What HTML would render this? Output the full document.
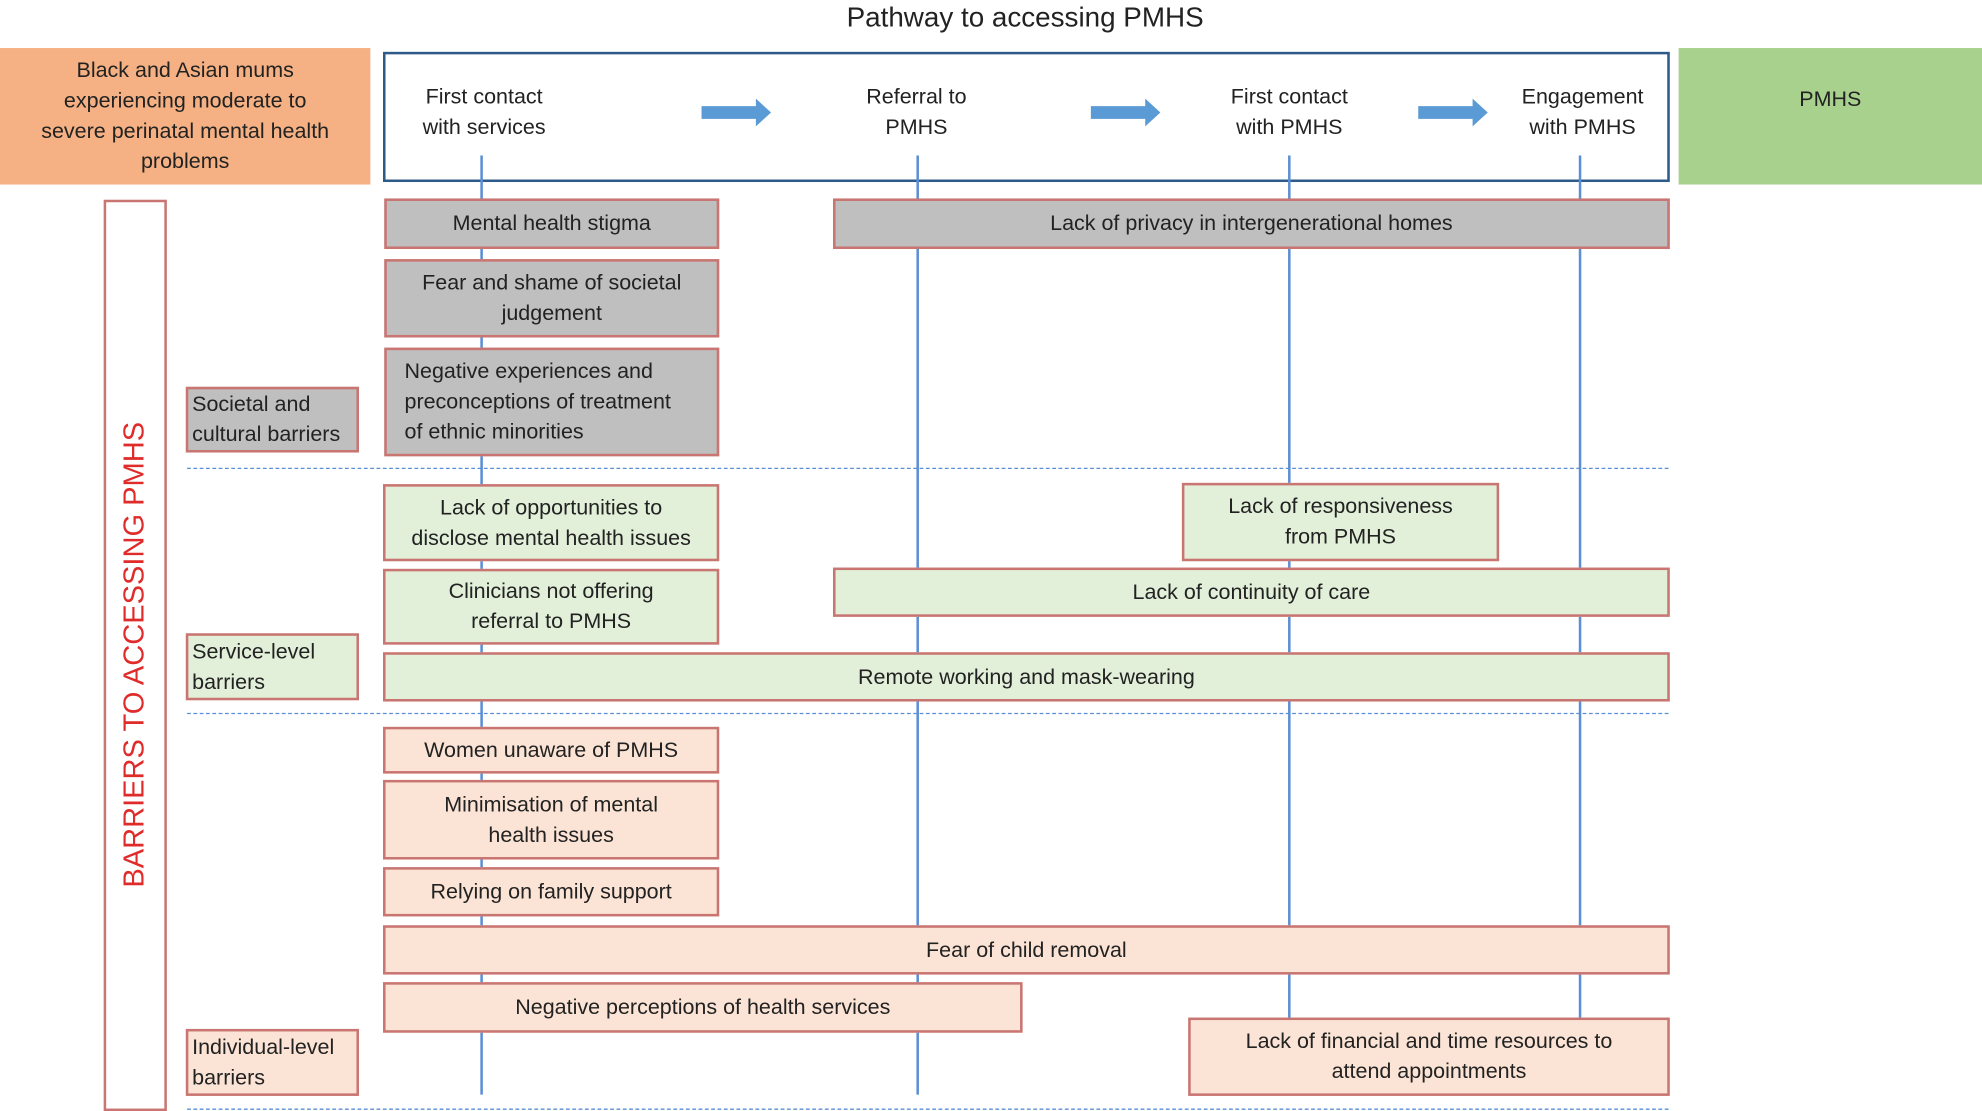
<!DOCTYPE html>
<html><head><meta charset="utf-8"><style>
html,body{margin:0;padding:0;background:#fff;}
body{width:1982px;height:1111px;overflow:hidden;position:relative;}
#c{position:absolute;left:0;top:0;width:1568px;height:879px;transform:scale(1.26403);transform-origin:0 0;font-family:"Liberation Sans",sans-serif;color:#222;font-size:17px;}
.a{position:absolute;box-sizing:border-box;}
.b{position:absolute;box-sizing:border-box;border:2px solid #c97572;display:flex;align-items:center;justify-content:center;text-align:center;line-height:24px;}
.g{background:#bfbfbf;}
.gr{background:#e2efd9;}
.p{background:#fbe4d5;}
.l{justify-content:flex-start;text-align:left;padding-left:14px;}
.v{position:absolute;width:1.5px;background:#5b8fd5;}
.h{position:absolute;left:148px;width:1172px;border-top:1.5px dashed #5b8fd5;height:0;}
.t{position:absolute;text-align:center;line-height:24px;transform:translateX(-50%);white-space:nowrap;}
.arr{position:absolute;}
</style></head><body><div id="c">
<div class="t" style="left:811px;top:0px;font-size:22px;line-height:28px;">Pathway to accessing PMHS</div>
<div class="a" style="left:0;top:38px;width:293px;height:108px;background:#f5b183;display:flex;align-items:center;justify-content:center;text-align:center;line-height:24px;">Black and Asian mums<br>experiencing moderate to<br>severe perinatal mental health<br>problems</div>
<div class="a" style="left:303px;top:41px;width:1018px;height:103px;border:2px solid #2e5a8a;"></div>
<div class="a" style="left:1328px;top:38px;width:240px;height:108px;background:#a9d18e;"></div>
<div class="t" style="left:1448px;top:67px;">PMHS</div>
<div class="t" style="left:383px;top:65px;">First contact<br>with services</div>
<div class="t" style="left:725px;top:65px;">Referral to<br>PMHS</div>
<div class="t" style="left:1020px;top:65px;">First contact<br>with PMHS</div>
<div class="t" style="left:1252px;top:65px;">Engagement<br>with PMHS</div>
<svg class="arr" style="left:0;top:0" width="1568" height="879">
<g fill="#5b9bd5">
<polygon points="555,84 598,84 598,78 610,89 598,100 598,94 555,94"/>
<polygon points="863,84 906,84 906,78 918,89 906,100 906,94 863,94"/>
<polygon points="1122,84 1165,84 1165,78 1177,89 1165,100 1165,94 1122,94"/>
</g></svg>
<div class="v" style="left:380px;top:123px;height:743px;"></div>
<div class="v" style="left:725px;top:123px;height:743px;"></div>
<div class="v" style="left:1019px;top:123px;height:682px;"></div>
<div class="v" style="left:1249px;top:123px;height:682px;"></div>
<div class="h" style="top:370px;"></div>
<div class="h" style="top:564px;"></div>
<div class="h" style="top:877px;"></div>
<div class="a" style="left:82px;top:158px;width:50px;height:721px;border:2px solid #c97572;background:#fff;"></div>
<div class="a" style="left:106px;top:518px;transform:translate(-50%,-50%) rotate(-90deg);white-space:nowrap;color:#e02b2b;font-size:23px;">BARRIERS TO ACCESSING PMHS</div>
<div class="b g l" style="left:147px;top:306px;width:137px;height:52px;padding-left:3px;">Societal and<br>cultural barriers</div>
<div class="b gr l" style="left:147px;top:501px;width:137px;height:53px;padding-left:3px;">Service-level<br>barriers</div>
<div class="b p l" style="left:147px;top:814px;width:137px;height:53px;padding-left:3px;">Individual-level<br>barriers</div>
<div class="b g" style="left:304px;top:157px;width:265px;height:40px;">Mental health stigma</div>
<div class="b g" style="left:304px;top:205px;width:265px;height:62px;">Fear and shame of societal<br>judgement</div>
<div class="b g l" style="left:304px;top:275px;width:265px;height:86px;">Negative experiences and<br>preconceptions of treatment<br>of ethnic minorities</div>
<div class="b g" style="left:659px;top:157px;width:662px;height:40px;">Lack of privacy in intergenerational homes</div>
<div class="b gr" style="left:303px;top:383px;width:266px;height:61px;">Lack of opportunities to<br>disclose mental health issues</div>
<div class="b gr" style="left:935px;top:382px;width:251px;height:62px;">Lack of responsiveness<br>from PMHS</div>
<div class="b gr" style="left:303px;top:450px;width:266px;height:60px;">Clinicians not offering<br>referral to PMHS</div>
<div class="b gr" style="left:659px;top:449px;width:662px;height:39px;">Lack of continuity of care</div>
<div class="b gr" style="left:303px;top:516px;width:1018px;height:39px;">Remote working and mask-wearing</div>
<div class="b p" style="left:303px;top:575px;width:266px;height:37px;">Women unaware of PMHS</div>
<div class="b p" style="left:303px;top:617px;width:266px;height:63px;">Minimisation of mental<br>health issues</div>
<div class="b p" style="left:303px;top:686px;width:266px;height:39px;">Relying on family support</div>
<div class="b p" style="left:303px;top:732px;width:1018px;height:39px;">Fear of child removal</div>
<div class="b p" style="left:303px;top:777px;width:506px;height:40px;">Negative perceptions of health services</div>
<div class="b p" style="left:940px;top:805px;width:381px;height:62px;">Lack of financial and time resources to<br>attend appointments</div>
</div></body></html>
